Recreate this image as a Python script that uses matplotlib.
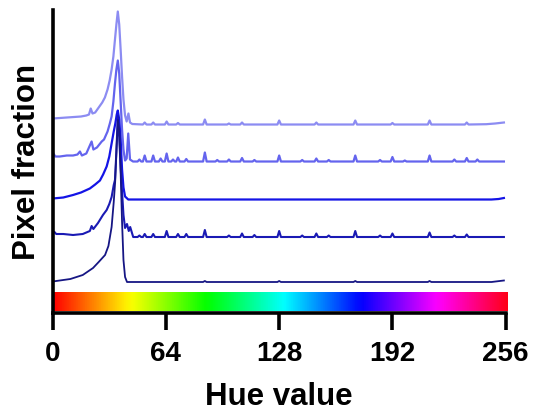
import numpy as np
import matplotlib
matplotlib.use("Agg")
import matplotlib.pyplot as plt

plt.rcParams['font.family'] = ['Liberation Sans', 'DejaVu Sans']

# hue histograms, values in per mille of pixels (stacked with offsets below)
hue1 = [0, 4, 8, 12, 16, 19, 20.5, 21.5, 22.5, 24, 26, 28, 29.5, 31, 32.2, 33.3, 34.3, 35.2, 36, 36.8,
        37.6, 38.4, 39.2, 40, 40.9, 41.8, 42.8, 43.7, 45,
        51, 52, 53, 55.8, 56.8, 57.8, 63.4, 64.4, 65.4, 69.8, 70.8, 71.8, 85, 86, 87, 98.6, 99.6, 100.6,
        106, 107, 108, 127, 128, 129, 148, 149, 150, 170, 171, 172, 191, 192, 193, 212, 213, 214,
        233, 234, 235, 245, 250, 255]
frac1 = [6, 6.5, 7, 7.5, 8, 9, 10, 16, 11, 12, 17, 22, 27, 35, 44, 55, 68, 85, 100, 113,
         100, 75, 48, 25, 9, 3, 11, 2, 0.5,
         0, 2, 0, 0, 2, 0, 0, 3, 0, 0, 1.5, 0, 0, 5, 0, 0, 1, 0,
         0, 2, 0, 0, 4, 0, 0, 2, 0, 0, 4, 0, 0, 1.5, 0, 0, 4, 0,
         0, 2, 0, 0.3, 1, 2]

hue2 = [0, 1.5, 4, 8, 11.5, 14, 15.4, 16.5, 19, 22, 23, 25, 27.7, 29, 31, 32.3, 33.3, 34.3, 35.2, 36,
        36.8, 37.6, 38.4, 39.2, 40, 40.9, 41.8, 42.7, 43.7, 45.4,
        48, 49, 50, 51, 52, 53, 55.8, 56.8, 57.8, 60, 61, 62, 63.4, 64.4, 65.4, 67, 68, 69,
        69.8, 70.8, 71.8, 74.5, 75.5, 76.5, 85, 86, 87, 92, 93, 94, 98.6, 99.6, 100.6,
        106, 107, 108, 113, 114, 115, 127, 128, 129, 140, 141, 142, 148, 149, 150, 155, 156, 157,
        170, 171, 172, 184, 185, 186, 191, 192, 193, 198, 199, 200, 212, 213, 214,
        226, 227, 228, 233, 234, 235, 239, 240, 241, 255]
frac2 = [9, 5, 5, 6, 6, 7, 10, 6, 8, 20, 12, 14, 20, 22, 30, 38, 45, 60, 78, 92,
         101, 88, 60, 32, 12, 1, 3, 28, 2, 0,
         0, 2, 0, 0, 6, 0, 0, 6, 0, 0, 3, 0, 0, 8, 0, 0, 2, 0,
         0, 4, 0, 0, 2.5, 0, 0, 9, 0, 0, 1.5, 0, 0, 2, 0,
         0, 3.5, 0, 0, 1.5, 0, 0, 6, 0, 0, 1.5, 0, 0, 3, 0, 0, 1.5, 0,
         0, 6, 0, 0, 1.5, 0, 0, 4.5, 0, 0, 1, 0, 0, 6, 0,
         0, 2, 0, 0, 3.5, 0, 0, 2, 0, 0]

hue3 = [0, 6, 11.5, 16, 21, 24, 26.7, 28.5, 30.5, 32, 33.3, 34.5, 35.4, 36.2, 36.8, 37.6, 38.4, 39.2,
        40, 40.9, 42.7, 248, 252, 255]
frac3 = [1, 2, 4.5, 7, 11, 15, 19, 25, 33, 43, 56, 68, 76, 85, 89, 80, 60, 30,
         12, 3, 0, 0, 0.5, 1.5]

hue4 = [0, 1, 2, 6, 11.5, 17, 21, 22, 23, 25.6, 28.4, 30.5, 32, 33.3, 34.5, 35.2, 36, 36.8, 37.6, 38.4,
        39.2, 40, 40.9, 42, 43, 43.8, 45.5,
        48, 49, 50, 51, 52, 53, 55.8, 56.8, 57.8, 63.4, 64.4, 65.4, 69.8, 70.8, 71.8, 74.5, 75.5, 76.5,
        85, 86, 87, 98.6, 99.6, 100.6, 106, 107, 108, 113, 114, 115, 127, 128, 129, 140, 141, 142,
        148, 149, 150, 155, 156, 157, 170, 171, 172, 184, 185, 186, 191, 192, 193, 212, 213, 214,
        226, 227, 228, 233, 234, 235, 255]
frac4 = [4, 5, 3, 3, 2, 3, 6, 11, 8, 14, 22, 27, 33, 40, 52, 57, 85, 121, 100, 70,
         45, 22, 9, 13, 6, 10, 0,
         0, 1.5, 0, 0, 3, 0, 0, 3, 0, 0, 6, 0, 0, 3, 0, 0, 3, 0,
         0, 7, 0, 0, 1.5, 0, 0, 3.5, 0, 0, 2, 0, 0, 6, 0, 0, 1.5, 0,
         0, 3.5, 0, 0, 1.5, 0, 0, 6, 0, 0, 1.5, 0, 0, 3.5, 0, 0, 4.5, 0,
         0, 1.5, 0, 0, 2.5, 0, 0]

hue5 = [0, 10, 17, 22.8, 26, 29.6, 31.5, 33.3, 34.5, 35.3, 36.1, 36.9, 37.7, 38.4, 39.2, 40, 40.9, 42,
        85, 86, 87, 127, 128, 129, 170, 171, 172, 212, 213, 214, 248, 255]
frac5 = [0.5, 3, 7, 14, 20, 27, 36, 55, 80, 100, 135, 162, 150, 110, 60, 22, 5, 0,
         0, 1, 0, 0, 1, 0, 0, 1, 0, 0, 1, 0, 0, 1.5]

hues = [hue1, hue2, hue3, hue4, hue5]
fracs = [frac1, frac2, frac3, frac4, frac5]
offsets = [188.5, 151.5, 113.5, 76, 31]
colors = ['#8c8cf2', '#6464ee', '#1414e6', '#1a1ab4', '#161684']
widths = [1.6, 1.6, 1.6, 1.5, 1.3]

fig = plt.figure(figsize=(5.36, 4.12), dpi=100)
ax = fig.add_axes([0.0983, 0.2403, 0.8451, 0.7354])

for h, f, off, c, lw in zip(hues, fracs, offsets, colors, widths):
    ax.plot(h, (np.array(f) + off) / 1000, color=c, lw=lw, solid_joinstyle='round')

# hue colour strip along the bottom
strip = np.linspace(0, 1, 512)[None, :]
ax.imshow(strip, cmap='hsv', aspect='auto', extent=[0, 257, 0.002, 0.0203],
          interpolation='bilinear', clip_on=False, zorder=1)

ax.set_xlim(0, 256)
ax.set_ylim(0, 0.303)
ax.set_xticks([0, 64, 128, 192, 256])
ax.set_yticks([])
ax.tick_params(axis='x', length=12, width=2.6, pad=8, labelsize=20)
for lab in ax.get_xticklabels():
    lab.set_fontweight('bold')

for s in ['top', 'right']:
    ax.spines[s].set_visible(False)
for s in ['left', 'bottom']:
    ax.spines[s].set_linewidth(2.6)
    ax.spines[s].set_zorder(5)

ax.set_xlabel('Hue value', fontsize=22.5, fontweight='bold', labelpad=11)
ax.set_ylabel('Pixel fraction', fontsize=22.5, fontweight='bold', labelpad=8)

fig.savefig('out.png', dpi=100)
